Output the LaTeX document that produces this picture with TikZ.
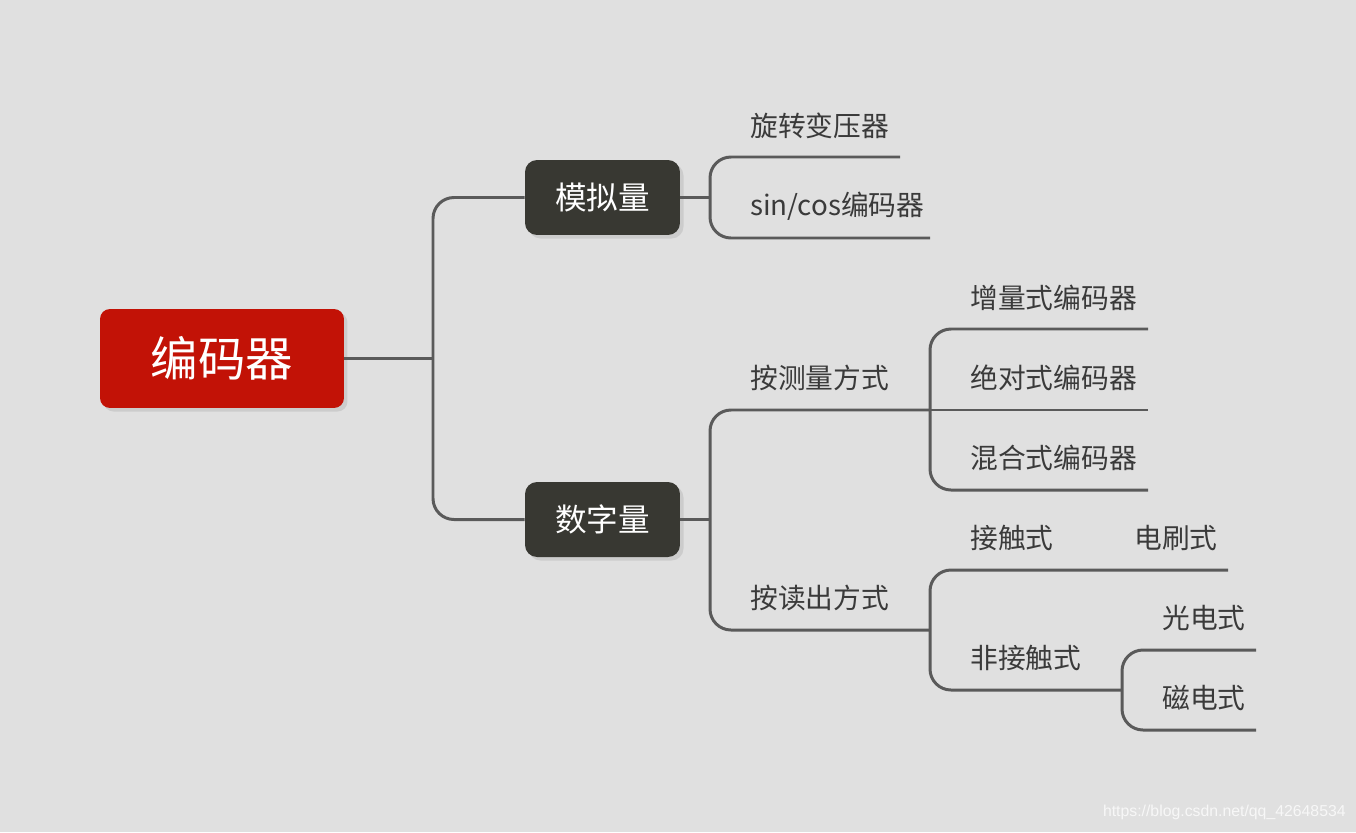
\documentclass[tikz,border=0pt]{standalone}
\usepackage{fontspec}
\setmainfont{Noto Sans CJK SC}
\newfontfamily\markfont{Liberation Sans}
\usetikzlibrary{shadows}
\definecolor{paper}{HTML}{E0E0E0}
\definecolor{rootred}{HTML}{C21206}
\definecolor{topic}{HTML}{383832}
\definecolor{wire}{HTML}{5A5A5A}
\definecolor{ink}{HTML}{3A3A3A}

\begin{document}
\begin{tikzpicture}[x=0.02cm,y=-0.02cm,
 rootbox/.style={fill=rootred,text=white,rounded corners=0.2cm,minimum width=4.88cm,
  minimum height=1.98cm,font=\fontsize{27}{30}\selectfont,
  drop shadow={opacity=0.2,shadow xshift=2pt,shadow yshift=-2pt}},
 topicbox/.style={fill=topic,text=white,rounded corners=0.24cm,minimum width=3.1cm,
  minimum height=1.5cm,font=\fontsize{18}{20}\selectfont,
  drop shadow={opacity=0.2,shadow xshift=2pt,shadow yshift=-2pt}},
 leaf/.style={anchor=west,inner sep=0pt,text=ink,font=\fontsize{15.8}{18}\selectfont},
 link/.style={draw=wire,line width=1.7pt,rounded corners=0.42cm}]
\fill[paper] (0,0) rectangle (1356,832);
\useasboundingbox (0,0) rectangle (1356,832);

\node[rootbox] (enc) at (222,358.5) {编码器};
\node[topicbox] (ana) at (602.5,197.5) {模拟量};
\node[topicbox] (dig) at (602.5,519.5) {数字量};

\coordinate (j1) at (433,358.5);
\coordinate (j2) at (710,197.5);
\coordinate (j3) at (710,519.5);
\coordinate (a1) at (900,157);
\coordinate (a2) at (930,238);
\coordinate (m) at (930,410);
\coordinate (r) at (930,630);
\coordinate (m1) at (1148,329);
\coordinate (m2) at (1148,410);
\coordinate (m3) at (1148,490);
\coordinate (c1) at (1228,570);
\coordinate (n) at (1122,690);
\coordinate (n1) at (1256,650);
\coordinate (n2) at (1256,730);

\draw[link] (enc.east) -- (j1);
\draw[link] (ana.west) -| (j1) |- (dig.west);
\draw[link] (ana.east) -- (j2);
\draw[link] (a1) -| (j2) |- (a2);
\draw[link] (dig.east) -- (j3);
\draw[link] (m) -| (j3) |- (r);
\draw[link] (m1) -| (m) |- (m3);
\draw[link] (m) -- (m2);
\draw[link] (c1) -| (r) |- (n);
\draw[link] (n1) -| (n) |- (n2);

\node[leaf] (rot) at (750,126) {旋转变压器};
\node[leaf] (sc) at (750,206) {sin/cos编码器};
\node[leaf] (meas) at (750,378) {按测量方式};
\node[leaf] (read) at (750,598) {按读出方式};
\node[leaf] (inc) at (970,298) {增量式编码器};
\node[leaf] (abs) at (970,378) {绝对式编码器};
\node[leaf] (mix) at (970,458) {混合式编码器};
\node[leaf] (con) at (970,538) {接触式};
\node[leaf] (brush) at (1134,538) {电刷式};
\node[leaf] (ncon) at (970,658) {非接触式};
\node[leaf] (opt) at (1162,618) {光电式};
\node[leaf] (mag) at (1162,698) {磁电式};

\node[anchor=east,inner sep=0pt,text=white,opacity=0.75,font=\markfont\fontsize{9}{10}\selectfont]
 (mark) at (1346,812) {https://blog.csdn.net/qq\_42648534};
\end{tikzpicture}
\end{document}
